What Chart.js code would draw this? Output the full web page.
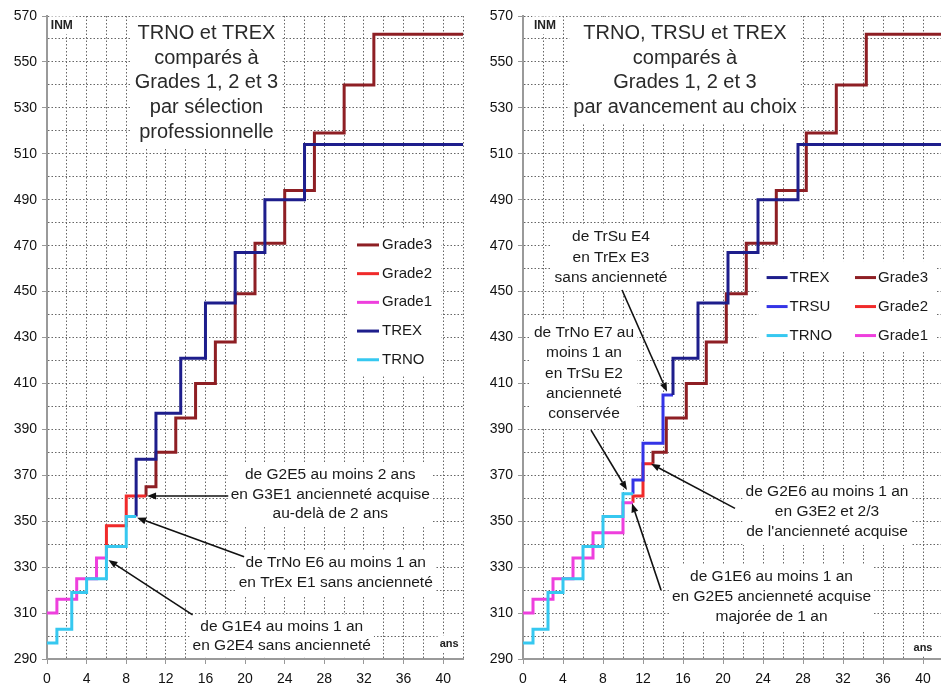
<!DOCTYPE html>
<html><head><meta charset="utf-8">
<script src="https://cdn.jsdelivr.net/npm/chart.js@4.4.0/dist/chart.umd.min.js"></script>
<style>
html,body{margin:0;padding:0;background:#fff;overflow:hidden;width:941px;height:686px;}
#wrapL{position:absolute;left:0;top:0;width:470px;height:686px;}
#wrapR{position:absolute;left:470px;top:0;width:480px;height:686px;}
</style></head><body>
<div id="wrapL"><canvas id="cL" width="470" height="686"></canvas></div>
<div id="wrapR"><canvas id="cR" width="480" height="686"></canvas></div>
<script>
// ---------- DATA (years of career -> INM) ----------
const yearMin = 0, yearMax = 42;
const inmMin = 290, inmMax = 570;

// Left panel : sélection professionnelle
const L_grade3_years = [10, 10, 11, 13, 15, 17, 19, 21, 24, 27, 30, 33, 42];
const L_grade3_inm   = [361, 365, 380, 395, 410, 428, 449, 471, 494, 519, 540, 562, 562];
const L_grade2_years = [6, 6, 8, 10];
const L_grade2_inm   = [334, 348, 361, 361];
const L_grade1_years = [0, 1, 3, 5, 6];
const L_grade1_inm   = [310, 316, 325, 334, 334];
const L_trex_years   = [9, 9, 11, 13.5, 16, 19, 22, 26, 42];
const L_trex_inm     = [352, 377, 397, 421, 445, 467, 490, 514, 514];
const L_trno_years   = [0, 1, 2.5, 4, 6, 8, 9];
const L_trno_inm     = [297, 303, 319, 325, 339, 352, 352];

// Right panel : avancement au choix
const R_trex_years   = [15, 15, 17.5, 20.5, 23.5, 27.5, 42];
const R_trex_inm     = [405, 421, 445, 467, 490, 514, 514];
const R_trsu_years   = [11, 11, 12, 14, 15];
const R_trsu_inm     = [362, 368, 384, 405, 405];
const R_trno_years   = [0, 1, 2.5, 4, 6, 8, 10, 11];
const R_trno_inm     = [297, 303, 319, 325, 339, 352, 362, 362];
const R_grade3_years = [13, 13, 14.33, 16.33, 18.33, 20.33, 22.33, 25.33, 28.33, 31.33, 34.33, 42];
const R_grade3_inm   = [375, 380, 395, 410, 428, 449, 471, 494, 519, 540, 562, 562];
const R_grade2_years = [11, 11, 12, 13];
const R_grade2_inm   = [358, 361, 375, 375];
const R_grade1_years = [0, 1, 3, 5, 7, 10, 11];
const R_grade1_inm   = [310, 316, 325, 334, 345, 358, 358];

// Texts
const L_title = ["TRNO et TREX", "comparés à", "Grades 1, 2 et 3", "par sélection", "professionnelle"];
const R_title = ["TRNO, TRSU et TREX", "comparés à", "Grades 1, 2 et 3", "par avancement au choix"];
const L_note1 = ["de G2E5 au moins 2 ans", "en G3E1 ancienneté acquise", "au-delà de 2 ans"];
const L_note2 = ["de TrNo E6 au moins 1 an", "en TrEx E1 sans ancienneté"];
const L_note3 = ["de G1E4 au moins 1 an", "en G2E4 sans ancienneté"];
const R_note1 = ["de TrSu E4", "en TrEx E3", "sans ancienneté"];
const R_note2 = ["de TrNo E7 au", "moins 1 an", "en TrSu E2", "ancienneté", "conservée"];
const R_note3 = ["de G2E6 au moins 1 an", "en G3E2 et 2/3", "de l'ancienneté acquise"];
const R_note4 = ["de G1E6 au moins 1 an", "en G2E5 ancienneté acquise", "majorée de 1 an"];
const yUnit = "INM", xUnit = "ans";

// ---------- STYLE ----------
const FAM = "'Liberation Sans', Arial, sans-serif";
const COL = {Grade3:'#8E1F24', Grade2:'#F02A2A', Grade1:'#EE3FDD', TREX:'#1E1E8C', TRSU:'#3434E6', TRNO:'#36C8F0'};
const ORDER = {TRNO:0, TREX:1, TRSU:2, Grade1:3, Grade2:4, Grade3:5};

function pts(xs, ys){ return xs.map((x,i)=>({x:x, y:ys[i]})); }
function ds(label, xs, ys){
  return {label, data: pts(xs, ys), borderColor: COL[label], backgroundColor: COL[label],
    borderWidth: 3, pointRadius: 0, stepped: true, tension: 0, fill: false,
    borderJoinStyle: 'miter', order: ORDER[label]};
}

const decoPlugin = {
  id: 'deco',
  beforeDatasetsDraw(chart, args, o){
    const ctx = chart.ctx, sx = chart.scales.x, sy = chart.scales.y;
    const X = v => sx.getPixelForValue(v), Y = v => sy.getPixelForValue(v);
    ctx.save();
    (o.blocks||[]).forEach(b=>{
      ctx.font = b.font;
      const w = Math.max(...b.lines.map(t=>ctx.measureText(t).width));
      const cx = X(b.x), cy = Y(b.y), n = b.lines.length;
      ctx.fillStyle = '#fff';
      ctx.fillRect(cx - w/2 - b.pad, cy - b.lh/2 - b.pad, w + 2*b.pad, n*b.lh + 2*b.pad);
      ctx.fillStyle = b.color; ctx.textAlign = 'center'; ctx.textBaseline = 'middle';
      b.lines.forEach((t,i)=>ctx.fillText(t, cx, cy + i*b.lh));
    });
    const lg = o.legend;
    if (lg){
      ctx.font = lg.font;
      let x0 = Infinity, x1 = -Infinity, rows = 0;
      lg.cols.forEach(c=>{
        const lx = X(c.x);
        x0 = Math.min(x0, lx);
        c.labels.forEach(l=>{ x1 = Math.max(x1, lx + lg.lineLen + lg.gap + ctx.measureText(l).width); });
        rows = Math.max(rows, c.labels.length);
      });
      const y0 = Y(lg.y);
      ctx.fillStyle = '#fff';
      ctx.fillRect(x0 - lg.pad, y0 - lg.rowH/2 - 2, x1 - x0 + 2*lg.pad, rows*lg.rowH + 4);
      lg.cols.forEach(c=>{
        const lx = X(c.x);
        c.labels.forEach((l,i)=>{
          const d = chart.data.datasets.find(dd=>dd.label===l);
          const yy = y0 + i*lg.rowH;
          ctx.strokeStyle = d.borderColor; ctx.lineWidth = 3;
          ctx.beginPath(); ctx.moveTo(lx, yy); ctx.lineTo(lx + lg.lineLen, yy); ctx.stroke();
          ctx.fillStyle = '#1a1a1a'; ctx.textAlign = 'left'; ctx.textBaseline = 'middle';
          ctx.fillText(l, lx + lg.lineLen + lg.gap, yy);
        });
      });
    }
    ctx.restore();
  },
  afterDatasetsDraw(chart, args, o){
    const ctx = chart.ctx, sx = chart.scales.x, sy = chart.scales.y;
    const X = v => sx.getPixelForValue(v), Y = v => sy.getPixelForValue(v);
    ctx.save();
    ctx.strokeStyle = '#111'; ctx.fillStyle = '#111'; ctx.lineWidth = 1.6;
    (o.arrows||[]).forEach(a=>{
      const x1 = X(a.from[0]), y1 = Y(a.from[1]), x2 = X(a.to[0]), y2 = Y(a.to[1]);
      const ang = Math.atan2(y2-y1, x2-x1), hl = 9, hw = 3.5;
      const bx = x2 - hl*Math.cos(ang), by = y2 - hl*Math.sin(ang);
      ctx.beginPath(); ctx.moveTo(x1,y1); ctx.lineTo(bx,by); ctx.stroke();
      ctx.beginPath(); ctx.moveTo(x2,y2);
      ctx.lineTo(bx + hw*Math.sin(ang), by - hw*Math.cos(ang));
      ctx.lineTo(bx - hw*Math.sin(ang), by + hw*Math.cos(ang));
      ctx.closePath(); ctx.fill();
    });
    ctx.restore();
  }
};

function makeChart(id, datasets, yAxisW, deco){
  return new Chart(document.getElementById(id), {
    type: 'line',
    data: {datasets},
    options: {
      responsive: false, animation: false, devicePixelRatio: 1,
      parsing: true,
      layout: {padding: {top: 16, right: 1, left: 0, bottom: 0}},
      plugins: {legend: {display: false}, tooltip: {enabled: false}, deco},
      scales: {
        x: {type: 'linear', min: yearMin, max: yearMax,
            afterFit: s => { s.height = 27; },
            ticks: {stepSize: 2, autoSkip: false, maxRotation: 0, padding: 7, color: '#111',
                    font: {family: FAM, size: 14}, callback: v => (v % 4 === 0 ? String(v) : '')},
            grid: {color: '#666', lineWidth: 1, tickLength: 5,
                   tickColor: c => (c.tick && c.tick.value % 4 === 0) ? '#999' : 'rgba(0,0,0,0)'},
            border: {display: true, color: '#9a9a9a', width: 2, dash: [1.5, 2]}},
        y: {type: 'linear', min: inmMin, max: inmMax,
            afterFit: s => { s.width = yAxisW; },
            ticks: {stepSize: 10, autoSkip: false, padding: 5, color: '#111',
                    font: {family: FAM, size: 14}, callback: v => ((v - inmMin) % 20 === 0 ? String(v) : '')},
            grid: {color: '#666', lineWidth: 1, tickLength: 5,
                   tickColor: c => (c.tick && (c.tick.value - inmMin) % 20 === 0) ? '#999' : 'rgba(0,0,0,0)'},
            border: {display: true, color: '#9a9a9a', width: 2, dash: [1.5, 2]}}
      }
    },
    plugins: [decoPlugin]
  });
}

const titleFont = '20px ' + FAM, noteFont = '15.5px ' + FAM;
makeChart('cL', [
  ds('Grade3', L_grade3_years, L_grade3_inm),
  ds('Grade2', L_grade2_years, L_grade2_inm),
  ds('Grade1', L_grade1_years, L_grade1_inm),
  ds('TREX', L_trex_years, L_trex_inm),
  ds('TRNO', L_trno_years, L_trno_inm)
], 47, {
  blocks: [
    {lines: L_title, x: 16.1, y: 562.5, font: titleFont, lh: 24.8, pad: 4, color: '#2a2a2a'},
    {lines: [yUnit], x: 1.5, y: 565.9, font: 'bold 12px ' + FAM, lh: 14, pad: 2, color: '#222'},
    {lines: [xUnit], x: 40.6, y: 296.5, font: 'bold 11px ' + FAM, lh: 13, pad: 2, color: '#222'},
    {lines: L_note1, x: 28.6, y: 370.1, font: noteFont, lh: 19.2, pad: 3, color: '#1a1a1a'},
    {lines: L_note2, x: 29.15, y: 331.8, font: noteFont, lh: 19.5, pad: 3, color: '#1a1a1a'},
    {lines: L_note3, x: 23.7, y: 303.9, font: noteFont, lh: 18.5, pad: 3, color: '#1a1a1a'}
  ],
  legend: {cols: [{x: 31.3, labels: ['Grade3', 'Grade2', 'Grade1', 'TREX', 'TRNO']}],
           y: 470.3, rowH: 28.7, lineLen: 22, gap: 3, pad: 9, font: '15px ' + FAM},
  arrows: [
    {from: [18.3, 361], to: [10.1, 361]},
    {from: [19.9, 334.5], to: [9.1, 351.5]},
    {from: [14.7, 309.2], to: [6.2, 333.1]}
  ]
});

makeChart('cR', [
  ds('TREX', R_trex_years, R_trex_inm),
  ds('TRSU', R_trsu_years, R_trsu_inm),
  ds('TRNO', R_trno_years, R_trno_inm),
  ds('Grade3', R_grade3_years, R_grade3_inm),
  ds('Grade2', R_grade2_years, R_grade2_inm),
  ds('Grade1', R_grade1_years, R_grade1_inm)
], 53, {
  blocks: [
    {lines: R_title, x: 16.2, y: 562.5, font: titleFont, lh: 24.8, pad: 4, color: '#2a2a2a'},
    {lines: [yUnit], x: 2.2, y: 565.9, font: 'bold 12px ' + FAM, lh: 14, pad: 2, color: '#222'},
    {lines: [xUnit], x: 40.0, y: 294.8, font: 'bold 11px ' + FAM, lh: 13, pad: 2, color: '#222'},
    {lines: R_note1, x: 8.8, y: 473.8, font: noteFont, lh: 20.5, pad: 3, color: '#1a1a1a'},
    {lines: R_note2, x: 6.1, y: 432, font: noteFont, lh: 20.25, pad: 3, color: '#1a1a1a'},
    {lines: R_note3, x: 30.4, y: 362.7, font: noteFont, lh: 20, pad: 3, color: '#1a1a1a'},
    {lines: R_note4, x: 24.85, y: 325.7, font: noteFont, lh: 20, pad: 3, color: '#1a1a1a'}
  ],
  legend: {cols: [{x: 24.36, labels: ['TREX', 'TRSU', 'TRNO']}, {x: 33.2, labels: ['Grade3', 'Grade2', 'Grade1']}],
           y: 456.1, rowH: 29, lineLen: 21, gap: 2, pad: 8, font: '15px ' + FAM},
  arrows: [
    {from: [9.9, 450.7], to: [14.4, 406.4]},
    {from: [6.8, 389.7], to: [10.4, 363.6]},
    {from: [21.2, 355.6], to: [12.8, 375]},
    {from: [13.8, 320], to: [10.9, 357.8]}
  ]
});
</script>
</body></html>
